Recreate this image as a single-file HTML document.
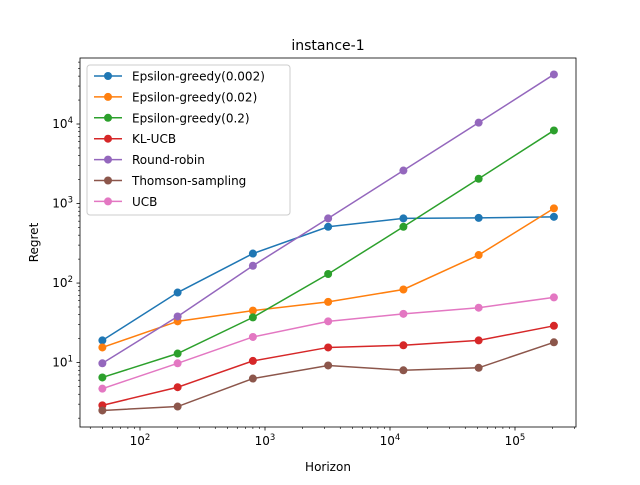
<!DOCTYPE html>
<html><head><meta charset="utf-8"><style>
body{margin:0;background:#fff;font-family:"Liberation Sans","DejaVu Sans",sans-serif}
</style></head><body>
<svg id="chart" width="640" height="480" xmlns="http://www.w3.org/2000/svg" font-family="DejaVu Sans, Liberation Sans, sans-serif"></svg>
<script>
const horizons=[50,200,800,3200,12800,51200,204800];
const seriesNames=["Epsilon-greedy(0.002)","Epsilon-greedy(0.02)","Epsilon-greedy(0.2)","KL-UCB","Round-robin","Thomson-sampling","UCB"];
const epsGreedy0002=[19,76,235,510,650,660,680];
const epsGreedy002=[15.5,33,45,58,83,225,870];
const epsGreedy02=[6.5,13,37,130,510,2050,8300];
const klUcb=[2.9,4.9,10.5,15.5,16.5,19,29];
const roundRobin=[9.8,38,165,650,2600,10400,42000];
const thomson=[2.5,2.8,6.3,9.2,8.0,8.6,18];
const ucb=[4.7,9.8,21,33,41,49,66];
const allSeries=[epsGreedy0002,epsGreedy002,epsGreedy02,klUcb,roundRobin,thomson,ucb];
const colors=["#1f77b4","#ff7f0e","#2ca02c","#d62728","#9467bd","#8c564b","#e377c2"];
const xTicks=[2,3,4,5];
const yTicks=[1,2,3,4];
const L=80,R=576,T=58,B=427;
const xLmin=1.52,xLmax=5.488,yLmin=0.19,yLmax=4.83;
const sx=v=>L+(Math.log10(v)-xLmin)/(xLmax-xLmin)*(R-L);
const sy=v=>B-(Math.log10(v)-yLmin)/(yLmax-yLmin)*(B-T);
const svg=document.getElementById('chart');
const NS="http://www.w3.org/2000/svg";
function mk(tag,attrs,parent){const e=document.createElementNS(NS,tag);for(const k in attrs)e.setAttribute(k,attrs[k]);(parent||svg).appendChild(e);return e;}
// series
allSeries.forEach((s,i)=>{
  const g=mk('g',{});
  
  
  mk('polyline',{points:s.map((v,j)=>sx(horizons[j])+','+sy(v)).join(' '),fill:'none',stroke:colors[i],'stroke-width':1.5},g);
  s.forEach((v,j)=>{const c=mk('circle',{cx:sx(horizons[j]),cy:sy(v),r:4,fill:colors[i]},g);
    
    });
});
// axes frame
const fr=mk('rect',{x:L,y:T,width:R-L,height:B-T,fill:'none',stroke:'#000','stroke-width':0.8});


// x ticks
for(let d=1;d<=5;d++){for(let m=1;m<10;m++){const v=m*Math.pow(10,d);const lv=Math.log10(v);if(lv<xLmin||lv>xLmax)continue;const x=sx(v);mk('line',{x1:x,x2:x,y1:B,y2:B+(m==1?3.5:2),stroke:'#000','stroke-width':m==1?0.8:0.6});}}
xTicks.forEach(e=>{const t=mk('text',{x:sx(Math.pow(10,e)),y:B+18,'text-anchor':'middle','font-size':12});t.innerHTML='10<tspan dy="-5" font-size="8.5">'+e+'</tspan>';
  
  });
// y ticks
for(let d=0;d<=4;d++){for(let m=1;m<10;m++){const v=m*Math.pow(10,d);const lv=Math.log10(v);if(lv<yLmin||lv>yLmax)continue;const y=sy(v);mk('line',{x1:L,x2:L-(m==1?3.5:2),y1:y,y2:y,stroke:'#000','stroke-width':m==1?0.8:0.6});}}
yTicks.forEach(e=>{const t=mk('text',{x:L-7,y:sy(Math.pow(10,e))+4,'text-anchor':'end','font-size':12});t.innerHTML='10<tspan dy="-5" font-size="8.5">'+e+'</tspan>';
  
  });
const xt=mk('text',{x:(L+R)/2,y:471,'text-anchor':'middle','font-size':12});xt.textContent='Horizon';


const yt=mk('text',{x:38,y:(T+B)/2,'text-anchor':'middle','font-size':12,transform:'rotate(-90 38 '+((T+B)/2)+')'});yt.textContent='Regret';


const ti=mk('text',{x:(L+R)/2,y:50,'text-anchor':'middle','font-size':14});ti.textContent='instance-1';


// legend
const lg=mk('g',{});


mk('rect',{x:87,y:65,width:203,height:150,rx:3,fill:'#fff','fill-opacity':0.8,stroke:'#ccc'},lg);
seriesNames.forEach((n,i)=>{const y=76+i*20.9;const e=mk('g',{},lg);
  
  
  mk('line',{x1:94,x2:122,y1:y,y2:y,stroke:colors[i],'stroke-width':1.5},e);
  mk('circle',{cx:108,cy:y,r:4,fill:colors[i]},e);
  const t=mk('text',{x:132,y:y+4.5,'font-size':12},e);t.textContent=n;});
</script>
</body></html>
